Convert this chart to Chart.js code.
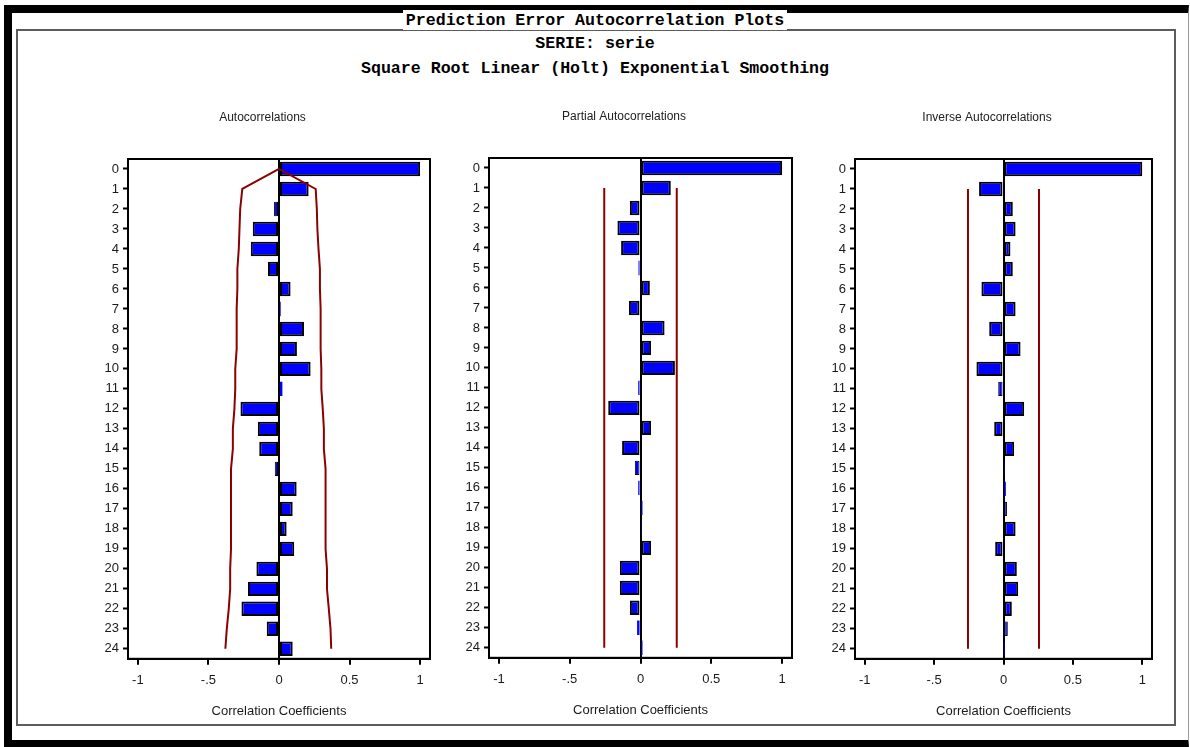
<!DOCTYPE html>
<html>
<head>
<meta charset="utf-8">
<script src="https://cdn.jsdelivr.net/npm/chart.js@4"></script>
<style>
  html, body { margin: 0; padding: 0; background: #fff; }
  body { width: 1190px; height: 747px; position: relative; overflow: hidden; font-family: "Liberation Sans", Arial, sans-serif; }
  #outer { position: absolute; left: 4px; top: 5px; width: 1176px; height: 727px; border-top: 8px solid #000; border-left: 8px solid #000; border-bottom: 7px solid #000; border-right: 1px solid #999; }
  #group { position: absolute; left: 16px; top: 29px; width: 1156px; height: 693px; border: 2px solid #5c5c5c; }
  .head { position: absolute; left: 0; width: 1190px; text-align: center; font-family: "Liberation Mono", "DejaVu Sans Mono", monospace; font-weight: bold; font-size: 16.6px; line-height: 14px; color: #000; }
  .head span { background: #fff; padding: 1px 3px 0 3px; }
  .panel { position: absolute; }
</style>
</head>
<body>
<div id="outer"></div>
<div id="group"></div>
<div class="head" style="top:14px"><span>Prediction Error Autocorrelation Plots</span></div>
<div class="head" style="top:37px"><span>SERIE: serie</span></div>
<div class="head" style="top:62px"><span>Square Root Linear (Holt) Exponential Smoothing</span></div>

<div class="panel" style="left:95px;top:100px;width:340px;height:625px"><canvas id="acf"></canvas></div>
<div class="panel" style="left:456px;top:99px;width:342px;height:625px"><canvas id="pacf"></canvas></div>
<div class="panel" style="left:822px;top:100px;width:338px;height:625px"><canvas id="iacf"></canvas></div>

<script>
const lags = ["0", "1", "2", "3", "4", "5", "6", "7", "8", "9", "10", "11", "12",
  "13", "14", "15", "16", "17", "18", "19", "20", "21", "22", "23", "24"];

const xTickValues = [-1, -0.5, 0, 0.5, 1];
const xTickLabels = ["-1", "-.5", "0", "0.5", "1"];

// autocorrelations
const acf = [1.0, 0.21, -0.035, -0.186, -0.2, -0.078, 0.082, 0.012, 0.177, 0.127, 0.224, 0.024, -0.273,
  -0.15, -0.14, -0.03, 0.125, 0.097, 0.054, 0.108, -0.16, -0.22, -0.266, -0.087, 0.097];
const acfUpper = [0, 0.26, 0.268, 0.272, 0.28, 0.29, 0.29, 0.295, 0.295, 0.295, 0.3, 0.3, 0.31,
  0.318, 0.318, 0.33, 0.33, 0.33, 0.33, 0.33, 0.34, 0.34, 0.353, 0.365, 0.37];
const acfLower = [0, -0.26, -0.275, -0.28, -0.285, -0.295, -0.295, -0.3, -0.3, -0.3, -0.31, -0.31, -0.316,
  -0.327, -0.327, -0.34, -0.34, -0.34, -0.34, -0.34, -0.346, -0.346, -0.356, -0.37, -0.38];

// partial autocorrelations
const pacf = [1.0, 0.214, -0.075, -0.163, -0.137, -0.014, 0.066, -0.082, 0.17, 0.075, 0.243, -0.016, -0.228,
  0.075, -0.13, -0.04, -0.016, 0.014, 0.005, 0.075, -0.146, -0.146, -0.075, -0.024, 0.014];
const pacfUpper = [null, 0.256, 0.256, 0.256, 0.256, 0.256, 0.256, 0.256, 0.256, 0.256, 0.256, 0.256, 0.256,
  0.256, 0.256, 0.256, 0.256, 0.256, 0.256, 0.256, 0.256, 0.256, 0.256, 0.256, 0.256];
const pacfLower = [null, -0.256, -0.256, -0.256, -0.256, -0.256, -0.256, -0.256, -0.256, -0.256, -0.256, -0.256, -0.256,
  -0.256, -0.256, -0.256, -0.256, -0.256, -0.256, -0.256, -0.256, -0.256, -0.256, -0.256, -0.256];

// inverse autocorrelations
const iacf = [1.0, -0.176, 0.067, 0.087, 0.05, 0.067, -0.159, 0.087, -0.103, 0.123, -0.195, -0.038, 0.149,
  -0.067, 0.077, 0.005, 0.017, 0.026, 0.087, -0.06, 0.096, 0.106, 0.06, 0.031, 0.002];
const iacfUpper = [null, 0.256, 0.256, 0.256, 0.256, 0.256, 0.256, 0.256, 0.256, 0.256, 0.256, 0.256, 0.256,
  0.256, 0.256, 0.256, 0.256, 0.256, 0.256, 0.256, 0.256, 0.256, 0.256, 0.256, 0.256];
const iacfLower = [null, -0.256, -0.256, -0.256, -0.256, -0.256, -0.256, -0.256, -0.256, -0.256, -0.256, -0.256, -0.256,
  -0.256, -0.256, -0.256, -0.256, -0.256, -0.256, -0.256, -0.256, -0.256, -0.256, -0.256, -0.256];

const font = { family: "'Liberation Sans', Arial, sans-serif", size: 13 };

// box round the plot area
const frame = {
  id: "frame",
  afterDatasetsDraw(chart) {
    const a = chart.chartArea;
    const ctx = chart.ctx;
    ctx.save();
    ctx.strokeStyle = "#000";
    ctx.lineWidth = 2;
    ctx.strokeRect(a.left, a.top, a.right - a.left, a.bottom - a.top);
    ctx.restore();
  },
};

function band(data) {
  return {
    type: "line",
    indexAxis: "y",
    data,
    borderColor: "#8b0000",
    borderWidth: 2,
    pointRadius: 0,
    tension: 0,
    fill: false,
    order: 0,
  };
}

// thin bars keep their blue fill, like the original
function barBorder(c) {
  const v = Math.abs(c.raw);
  if (v < 0.025) return 0;
  if (v < 0.05) return 1;
  return 2;
}

function createPanel(id, title, values, upper, lower, rightPad) {
  new Chart(document.getElementById(id), {
    type: "bar",
    data: {
      labels: lags,
      datasets: [
        {
          data: values,
          backgroundColor: "#0000ff",
          borderColor: "#000",
          borderWidth: barBorder,
          borderSkipped: false,
          barPercentage: 0.72,
          categoryPercentage: 1,
          order: 1,
        },
        band(upper),
        band(lower),
      ],
    },
    plugins: [frame],
    options: {
      indexAxis: "y",
      responsive: true,
      maintainAspectRatio: false,
      animation: false,
      layout: { padding: { left: 0, right: rightPad, top: 0, bottom: 6 } },
      plugins: {
        legend: { display: false },
        tooltip: { enabled: false },
        title: {
          display: true,
          text: title,
          color: "#222",
          font: { ...font, size: 12, weight: "normal" },
          padding: { top: 10, bottom: 34.6 },
        },
      },
      scales: {
        x: {
          type: "linear",
          position: "bottom",
          min: -1.07,
          max: 1.07,
          afterBuildTicks: (s) => { s.ticks = xTickValues.map((v) => ({ value: v })); },
          ticks: {
            color: "#1a1a1a",
            font,
            padding: 8,
            callback: (v) => xTickLabels[xTickValues.indexOf(v)],
          },
          grid: {
            color: (c) => c.tick && c.tick.value === 0 ? "#000" : "rgba(0,0,0,0)",
            lineWidth: 2,
            tickColor: "#000",
            tickWidth: 2,
            tickLength: 6,
          },
          border: { display: true, color: "#000", width: 2 },
          title: {
            display: true,
            text: "Correlation Coefficients",
            color: "#1a1a1a",
            font,
            padding: { top: 7, bottom: 0 },
          },
        },
        y: {
          type: "category",
          position: "left",
          offset: true,
          afterFit: (s) => { s.width = 33; },
          ticks: { color: "#1a1a1a", font, padding: 4, autoSkip: false },
          grid: {
            offset: false,
            drawOnChartArea: false,
            tickColor: "#000",
            tickWidth: 2,
            tickLength: 5,
          },
          border: { display: true, color: "#000", width: 2 },
        },
      },
    },
  });
}

addEventListener("load", () => {
  createPanel("acf", "Autocorrelations", acf, acfUpper, acfLower, 5);
  createPanel("pacf", "Partial Autocorrelations", pacf, pacfUpper, pacfLower, 6);
  createPanel("iacf", "Inverse Autocorrelations", iacf, iacfUpper, iacfLower, 8);
});
</script>
</body>
</html>
